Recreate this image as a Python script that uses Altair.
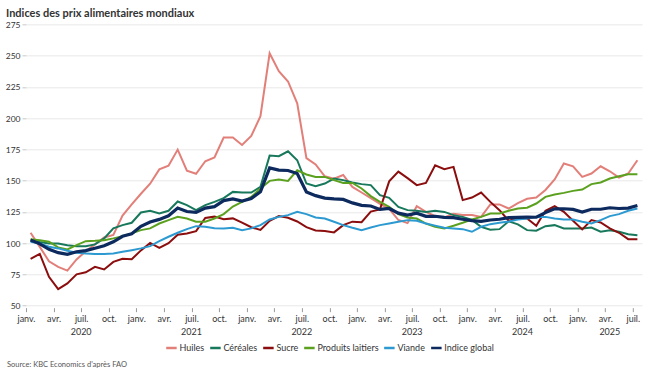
import altair as alt
import pandas as pd

series_names = ["Huiles", "Céréales", "Sucre", "Produits laitiers", "Viande", "Indice global"]
series_colors = ["#E27F79", "#17785B", "#8B0D0D", "#5BA11F", "#2C9AD1", "#0D2A5E"]
month_labels = ["janv.", "avr.", "juil.", "oct."]
first_year = 2020
y_ticks = [50, 75, 100, 125, 150, 175, 200, 225, 250, 275]
title_text = "Indices des prix alimentaires mondiaux"
source_text = "Source: KBC Economics d'après FAO"

# Monthly values, janv. 2020 -> juil. 2025
huiles = [108.3, 97.0, 85.5, 81.0, 78.0, 87.0, 93.5, 99.0, 104.5, 106.5, 122.0, 131.0,
          139.5, 147.5, 159.0, 162.0, 174.8, 158.0, 155.5, 165.5, 168.5, 184.5, 184.5, 178.5,
          185.7, 201.5, 251.8, 237.5, 229.3, 211.8, 168.0, 163.0, 153.5, 151.5, 154.5, 145.0,
          140.5, 136.0, 131.5, 127.5, 118.5, 116.0, 129.5, 125.0, 121.5, 120.5, 123.5, 122.5,
          122.5, 121.0, 131.0, 131.0, 127.7, 132.0, 135.5, 136.5, 142.5, 151.0, 163.7, 161.5,
          153.0, 155.7, 161.5, 157.5, 152.5, 155.7, 166.3]
cereales = [102.4, 101.0, 99.8, 99.8, 98.4, 97.6, 97.6, 99.0, 103.8, 111.8, 114.4, 116.3,
            124.5, 125.9, 123.7, 125.9, 133.3, 130.4, 126.4, 130.4, 133.0, 136.0, 141.0, 140.5,
            140.5, 145.0, 170.0, 169.5, 173.5, 166.3, 147.7, 145.6, 147.7, 151.7, 150.4, 148.5,
            147.2, 146.4, 138.4, 136.2, 129.0, 126.4, 125.9, 125.0, 126.0, 125.0, 122.4, 121.0,
            118.5, 113.0, 110.8, 111.2, 117.5, 115.0, 110.4, 109.9, 113.6, 114.4, 111.8, 111.8,
            111.8, 112.5, 109.1, 110.4, 109.1, 107.2, 106.4]
sucre = [87.5, 91.4, 73.1, 63.2, 67.8, 75.0, 76.7, 81.1, 79.0, 85.0, 87.5, 87.1,
         94.2, 100.2, 96.2, 100.0, 106.7, 107.7, 109.6, 120.1, 121.2, 119.1, 119.8, 116.4,
         112.7, 110.6, 117.9, 121.6, 120.3, 117.3, 112.8, 110.2, 109.7, 108.6, 114.4, 117.2,
         116.8, 125.2, 127.0, 149.4, 157.2, 152.0, 146.4, 148.2, 162.3, 159.1, 161.0, 134.4,
         136.5, 140.5, 133.0, 126.4, 117.9, 119.7, 119.7, 113.9, 125.9, 129.6, 125.0, 117.9,
         111.0, 118.4, 116.5, 111.8, 108.3, 103.2, 103.2]
laitiers = [103.2, 102.4, 101.1, 96.6, 95.0, 98.4, 101.6, 101.9, 102.4, 103.8, 105.6, 107.8,
            110.4, 111.8, 115.7, 118.4, 121.0, 119.7, 117.1, 117.1, 119.7, 123.2, 129.3, 133.0,
            137.0, 143.7, 149.8, 150.9, 149.8, 158.3, 154.9, 153.0, 153.0, 150.4, 148.2, 148.2,
            143.7, 137.6, 133.0, 129.0, 123.2, 120.5, 119.7, 115.7, 113.0, 111.8, 113.9, 116.3,
            118.9, 121.0, 123.7, 123.7, 125.9, 127.7, 128.3, 131.7, 137.0, 138.9, 140.2, 141.8,
            142.9, 147.2, 148.5, 151.7, 153.5, 155.1, 155.1]
viande = [101.1, 99.8, 97.1, 95.8, 93.9, 92.3, 91.8, 91.3, 91.3, 91.8, 93.1, 94.4,
          95.8, 97.6, 101.6, 105.1, 108.3, 111.2, 113.6, 113.1, 112.0, 111.8, 112.3, 110.4,
          111.8, 114.4, 118.9, 121.0, 122.4, 125.0, 123.2, 120.5, 119.7, 117.1, 114.4, 112.3,
          110.4, 112.5, 114.4, 115.7, 117.1, 118.4, 117.9, 115.7, 114.0, 112.3, 111.8, 111.2,
          109.1, 113.1, 115.2, 116.3, 117.3, 118.9, 119.7, 121.0, 121.0, 119.7, 118.9, 118.9,
          117.1, 115.7, 118.4, 121.6, 123.2, 125.9, 127.7]
indice_global = [102.5, 99.4, 95.1, 92.4, 91.0, 93.1, 94.0, 95.9, 97.9, 101.1, 105.5, 107.5,
                 113.5, 116.9, 119.0, 121.9, 128.1, 125.3, 124.6, 128.0, 129.2, 134.0, 135.4, 133.7,
                 135.6, 141.1, 160.2, 158.4, 158.1, 155.7, 141.0, 138.0, 136.0, 135.4, 135.0, 132.2,
                 130.2, 129.7, 127.0, 127.7, 124.0, 122.4, 123.9, 121.4, 121.5, 120.6, 120.4, 119.1,
                 118.0, 117.4, 118.5, 119.1, 120.4, 120.6, 120.8, 120.7, 124.4, 127.4, 127.5, 127.0,
                 124.9, 127.1, 127.1, 128.3, 127.7, 128.0, 130.1]

all_series = [huiles, cereales, sucre, laitiers, viande, indice_global]
rows = []
for name, vals in zip(series_names, all_series):
    for i, v in enumerate(vals):
        rows.append({"mois": i, "serie": name, "valeur": v})
df = pd.DataFrame(rows)
n_months = len(huiles)

# year labels centred on each year's span of months
year_rows = []
k = 0
while 12 * k < n_months:
    start = 12 * k
    end = min(12 * k + 12, n_months)
    year_rows.append({"annee": str(first_year + k), "centre": (start + end) / 2})
    k += 1
df_years = pd.DataFrame(year_rows)

FONT = "Lato"

months_js = "[" + ",".join("'" + m + "'" for m in month_labels) + "]"
label_expr = months_js + "[floor(datum.value/3) % 4]"

x_scale = alt.Scale(domain=[0, n_months], nice=False, zero=False)
x_axis = alt.Axis(
    values=list(range(0, n_months, 3)),
    labelExpr=label_expr,
    title=None, grid=False, domain=False,
    tickSize=4, tickColor="#9a9a9a", offset=2,
    labelFont=FONT, labelFontSize=9, labelColor="#333333",
    labelPadding=3,
    labelFlush=False, labelOverlap=False, labelBound=False,
)
x_enc = alt.X("pos:Q", scale=x_scale, axis=x_axis)
y_enc = alt.Y(
    "valeur:Q",
    scale=alt.Scale(domain=[50, 275], nice=False, zero=False),
    axis=alt.Axis(
        values=y_ticks, title=None, domain=False,
        grid=True, gridColor="#e8e8e8", gridWidth=1,
        tickSize=4, tickColor="#c8c8c8",
        labelFont=FONT, labelFontSize=8.5, labelColor="#333333", labelPadding=2,
    ),
)
color_enc = alt.Color(
    "serie:N",
    sort=series_names,
    scale=alt.Scale(domain=series_names, range=series_colors),
    legend=alt.Legend(
        title=None, orient="none", legendX=139, legendY=317,
        direction="horizontal", symbolType="stroke", symbolSize=110,
        symbolStrokeWidth=2.5, labelFont=FONT, labelFontSize=9,
        labelColor="#333333", columnPadding=0, labelOffset=1.5, padding=0,
    ),
)

base = alt.Chart(df).transform_calculate(pos="datum.mois + 0.5").encode(
    x=x_enc, y=y_enc, color=color_enc
)
lines = base.mark_line(strokeWidth=2).transform_filter(
    "datum.serie != 'Indice global'"
)
glob = base.mark_line(strokeWidth=3.2).transform_filter(
    "datum.serie == 'Indice global'"
)
years = alt.Chart(df_years).mark_text(
    align="center", baseline="middle", fontSize=9, color="#333333", font=FONT
).encode(
    x=alt.X("centre:Q", scale=x_scale, axis=x_axis),
    y=alt.value(308),
    text="annee:N",
)
source = alt.Chart(pd.DataFrame({"t": [source_text]})).mark_text(
    align="left", baseline="middle", fontSize=7.5, color="#555555", font=FONT
).encode(text="t:N", x=alt.value(-19), y=alt.value(340.7))

chart = alt.layer(lines, glob, years, source).properties(
    width=616.2, height=281.4,
    title=alt.TitleParams(
        text=title_text, anchor="start", frame="group", dx=-20, offset=1.5,
        font=FONT, fontSize=11, fontWeight="bold", color="#333333",
    ),
    autosize=alt.AutoSizeParams(type="none"),
    padding={"left": 26, "top": 24.3, "right": 10, "bottom": 70},
).configure_view(stroke=None)

chart.save("out.html", embed_options={"renderer": "svg", "actions": False})
